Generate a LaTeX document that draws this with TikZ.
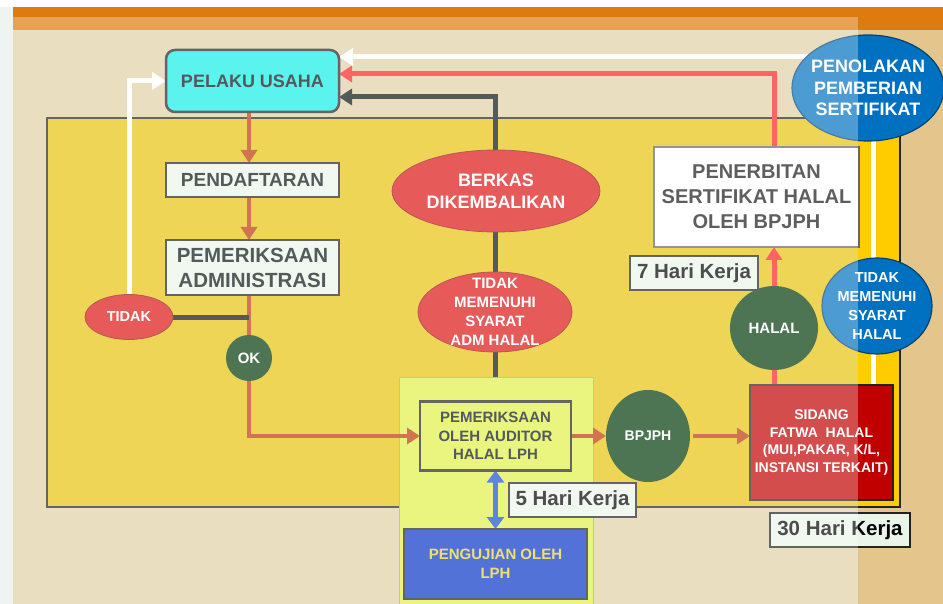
\documentclass[tikz,border=0pt]{standalone}
\usepackage{fontspec}
\setmainfont{Liberation Sans}
\usetikzlibrary{shapes.geometric,arrows.meta}
\pgfdeclarelayer{bg}
\pgfdeclarelayer{wires}
\pgfdeclarelayer{fog}
\pgfsetlayers{bg,wires,main,fog}

\definecolor{paperL}{HTML}{E0D0A5}
\definecolor{paperR}{HTML}{E4C68C}
\definecolor{barorange}{HTML}{DE7B0E}
\definecolor{boxyellow}{HTML}{E8C30E}
\definecolor{stripyellow}{HTML}{FFCC00}
\definecolor{panelgreen}{HTML}{E1F14A}
\definecolor{cyanbox}{HTML}{13EFE8}
\definecolor{redoval}{HTML}{DC1414}
\definecolor{darkgreen}{HTML}{003A0A}
\definecolor{sidangred}{HTML}{C00000}
\definecolor{rejectblue}{HTML}{0070C0}
\definecolor{testblue}{HTML}{0A36C8}
\definecolor{testtext}{HTML}{E8D430}
\definecolor{arrowblue}{HTML}{1A50D0}
\definecolor{flowbrown}{HTML}{BC3808}
\definecolor{coral}{HTML}{FF2020}
\definecolor{ink}{HTML}{0A1414}
\definecolor{edge}{HTML}{222222}
\definecolor{labelfill}{HTML}{EAF5EA}
\definecolor{mint}{HTML}{EEF5F0}

\tikzset{
  every node/.style={inner sep=0pt, outer sep=0pt},
  sz/.style 2 args={font=\bfseries\fontsize{#1}{#2}\selectfont},
  stepbox/.style={rectangle, draw=edge, line width=2.5pt, align=center, text=ink},
  daybox/.style={rectangle, draw=edge, line width=2.5pt, fill=labelfill, text=black, sz={20.5}{24}},
  oval/.style={ellipse, line width=0.8pt},
  ovaltext/.style={align=center, text=white},
  flow/.style={draw=flowbrown, line width=4.5pt, -{Triangle[length=13pt,width=16pt]}},
  flowline/.style={draw=flowbrown, line width=4.5pt},
  okpath/.style={draw=coral, line width=5pt, -{Triangle[length=13pt,width=16pt]}},
  okline/.style={draw=coral, line width=5pt},
  backpath/.style={draw=ink, line width=5pt, -{Triangle[length=13pt,width=16pt]}},
  backline/.style={draw=ink, line width=5pt},
  whitepath/.style={draw=white, line width=5pt, -{Triangle[length=14pt,width=17pt]}},
  whiteline/.style={draw=white, line width=5pt},
  testpath/.style={draw=arrowblue, line width=5pt, {Triangle[length=12pt,width=17pt]}-{Triangle[length=12pt,width=17pt]}},
}

\begin{document}
\begin{tikzpicture}[x=1pt,y=-1pt]
\useasboundingbox (0,0) rectangle (943,604);

% ---------- backdrop ----------
\begin{pgfonlayer}{bg}
  \fill[white] (0,0) rectangle (943,604);
  \fill[mint] (0,7) rectangle (13,604);
  \fill[paperL] (13,30) rectangle (858,604);
  \fill[paperR] (858,30) rectangle (943,604);
  \fill[barorange] (13,7) rectangle (943,30);
  % main process area
  \fill[boxyellow] (47,118) rectangle (858,507);
  \fill[stripyellow] (858,118) rectangle (900,507);
  \draw[edge, line width=2.5pt] (47,118) rectangle (900,507);
  % LPH panel
  \fill[panelgreen] (399,377) rectangle (593,610);
  \draw[gray!70, line width=1pt] (399,610) -- (399,377) -- (593,377) -- (593,610);
\end{pgfonlayer}

% ---------- nodes ----------
\node[stepbox, rounded corners=9pt, fill=cyanbox, minimum width=173, minimum height=62, sz={18}{22}]
  (pelaku) at (252.5,81) {PELAKU USAHA};
\node[stepbox, fill=labelfill, minimum width=173, minimum height=34, sz={19}{23}]
  (daftar) at (252.5,180) {PENDAFTARAN};
\node[stepbox, fill=labelfill, minimum width=173, minimum height=55, sz={20.5}{25}]
  (adm) at (252.5,267.5) {PEMERIKSAAN\\ADMINISTRASI};

\node[oval, fill=redoval, draw=redoval!70!black, minimum width=88, minimum height=45] (tidak) at (129,317) {};
\node[ovaltext, sz={14.5}{18}] (tidakT) at (tidak.center) {TIDAK};

\node[circle, fill=darkgreen, minimum size=46] (ok) at (249,358) {};
\node[ovaltext, sz={15}{18}] (okT) at (ok.center) {OK};

\node[oval, fill=redoval, draw=redoval!70!black, minimum width=208, minimum height=82] (berkas) at (496,191) {};
\node[ovaltext, sz={18}{22.5}] (berkasT) at (berkas.center) {BERKAS\\DIKEMBALIKAN};

\node[oval, fill=redoval, draw=redoval!70!black, minimum width=154, minimum height=80] (tmsa) at (495,312) {};
\node[ovaltext, sz={15}{19}] (tmsaT) at (tmsa.center) {TIDAK\\MEMENUHI\\SYARAT\\ADM HALAL};

\node[stepbox, fill=panelgreen, minimum width=151, minimum height=69, sz={15}{18.5}]
  (auditor) at (495.5,436) {PEMERIKSAAN\\OLEH AUDITOR\\HALAL LPH};
\node[stepbox, fill=testblue, text=testtext, minimum width=183, minimum height=70, sz={15}{19}]
  (uji) at (495.5,564) {PENGUJIAN OLEH\\LPH};

\node[oval, fill=darkgreen, minimum width=84, minimum height=92] (bpjph) at (648,436) {};
\node[ovaltext, sz={14}{17}] (bpjphT) at (bpjph.center) {BPJPH};

\node[stepbox, fill=sidangred, text=white, minimum width=143, minimum height=115, sz={14}{17.6}]
  (sidang) at (821.5,442.5) {SIDANG\\FATWA\ \ HALAL\\(MUI,PAKAR, K/L,\\INSTANSI TERKAIT)};

\node[oval, fill=darkgreen, minimum width=88, minimum height=84] (halal) at (774,328) {};
\node[ovaltext, sz={15}{18}] (halalT) at (halal.center) {HALAL};

\node[stepbox, draw=gray!80!black, fill=white, text=black!90, minimum width=205, minimum height=100, sz={20}{25}]
  (terbit) at (756.5,197) {PENERBITAN\\SERTIFIKAT HALAL\\OLEH BPJPH};

\node[oval, fill=rejectblue, draw=rejectblue!60!black, line width=1.2pt, minimum width=110, minimum height=96] (tmsh) at (877,306) {};
\node[ovaltext, sz={14.5}{18.7}] (tmshT) at (tmsh.center) {TIDAK\\MEMENUHI\\SYARAT\\HALAL};

\node[oval, fill=rejectblue, draw=rejectblue!60!black, line width=1.2pt, minimum width=152, minimum height=106] (tolak) at (868,88) {};
\node[ovaltext, sz={18}{21.5}] (tolakT) at (tolak.center) {PENOLAKAN\\PEMBERIAN\\SERTIFIKAT};

\node[daybox, minimum width=128, minimum height=34] (hari7) at (694,273) {7 Hari Kerja};
\node[daybox, minimum width=127, minimum height=34] (hari5) at (572.5,500) {5 Hari Kerja};
\node[daybox, minimum width=140, minimum height=34] (hari30) at (840,530) {30 Hari Kerja};

% ---------- connectors ----------
\coordinate (panelTop) at (495,377);
\coordinate (sidangTap) at (873,385);
\begin{pgfonlayer}{wires}
  % registration flow, all on the axis through OK
  \draw[flow] (pelaku.south -| ok.north) -- (daftar.north -| ok.north);
  \draw[flow] (daftar.south -| ok.north) -- (adm.north -| ok.north);
  \draw[flowline] (adm.south -| ok.north) -- (ok.north);
  \draw[flow] (ok.south) |- (auditor.west);
  \draw[flow] (auditor.east) -- (bpjph.west);
  \draw[flow, shorten <=3pt] (bpjph.east) -- (bpjph.east -| sidang.west);
  % rejected administration
  \draw[backline] (tidak.east) -- (tidak.east -| ok.north);
  \draw[whitepath] (tidak.north) |- (pelaku.west);
  \draw[backpath] (panelTop) |- ([yshift=-16pt]pelaku.east);
  % audit and testing
  \draw[testpath] (auditor.south) -- (uji.north);
  % halal decision
  \draw[okline] (sidang.north -| halal.south) -- (halal.south);
  \draw[okpath] (halal.north) -- (halal.north |- terbit.south);
  \draw[okpath] (terbit.north -| halal.north) |- ([yshift=7pt]pelaku.east);
  % refusal
  \draw[whiteline] (sidangTap) -- (sidangTap |- tolak.center);
  \draw[whitepath] ([yshift=31pt]tolak.center) -- ([yshift=24pt]pelaku.east);
\end{pgfonlayer}

% ---------- pale wash over the slide body ----------
\begin{pgfonlayer}{fog}
  \fill[white, opacity=0.3] (13,17) rectangle (858,604);
\end{pgfonlayer}
\end{tikzpicture}
\end{document}
